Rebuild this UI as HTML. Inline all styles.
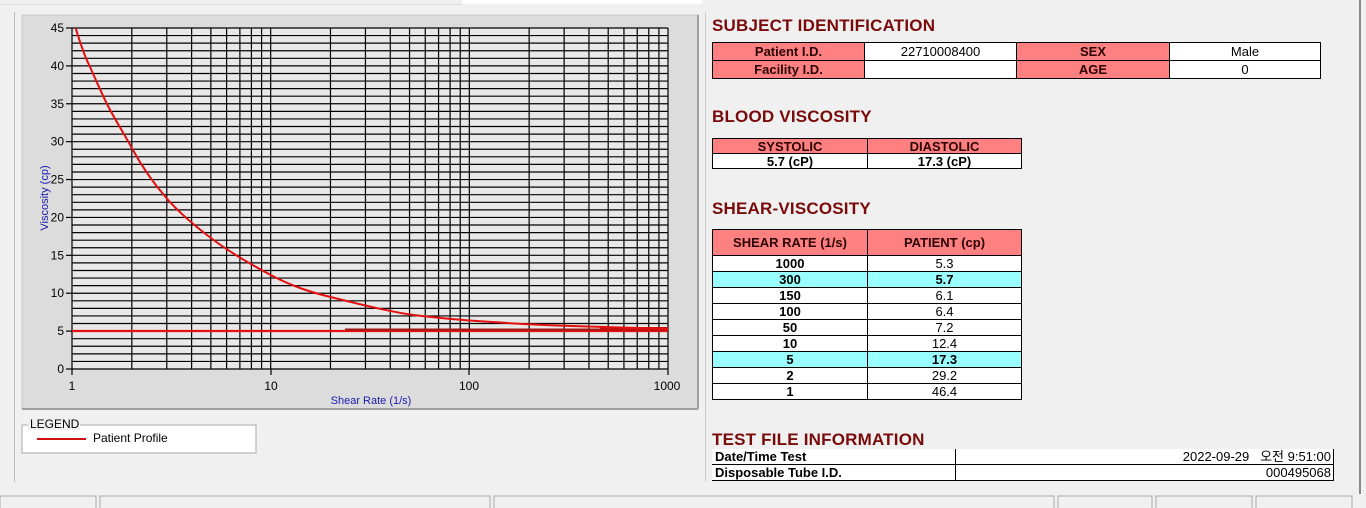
<!DOCTYPE html>
<html><head><meta charset="utf-8"><style>
body{margin:0;width:1366px;height:508px;background:#f0f0f0;position:relative;overflow:hidden;font-family:"Liberation Sans",sans-serif}
.a{position:absolute}
h2{position:absolute;margin:0;font-size:17px;font-weight:bold;color:#7a0a0a;letter-spacing:0.2px}
table{position:absolute;border-collapse:collapse;font-size:13px}
td{border:1px solid #000;padding:0;text-align:center;height:17px;line-height:15px;background:#fff;color:#000}
td.h{background:#ff8080;font-weight:bold;color:#2a0000}
td.b{font-weight:bold}
tr.c td{background:#99ffff;font-weight:bold}
.s td{height:15px;line-height:13px;font-size:13px}
</style></head><body>
<div class="a" style="left:0;top:0;width:462px;height:4px;background:#f0f0f0;border-bottom:1px solid #ddd"></div>
<div class="a" style="left:462px;top:0;width:240px;height:4px;background:#fff"></div>
<div class="a" style="left:14px;top:12px;width:690px;height:470px;border-left:1px solid #bbb;border-right:1px solid #ccc"></div>
<svg class="a" style="left:0;top:0" width="1366" height="508">
<rect x="22" y="15" width="676" height="394" fill="#dcdcdc" stroke="#c8c8c8"/>
<line x1="22" y1="409" x2="698" y2="409" stroke="#a0a0a0" stroke-width="2"/>
<line x1="698" y1="15" x2="698" y2="409" stroke="#a0a0a0" stroke-width="2"/>
<rect x="72" y="28" width="596" height="341" fill="#e8e8e8"/>
<defs><clipPath id="c"><rect x="72" y="28" width="597" height="342"/></clipPath></defs>
<g stroke="#000" stroke-width="1.2" id="grid"></g>
<g clip-path="url(#c)" fill="none">
<line x1="72" y1="331" x2="668" y2="331" stroke="#e41010" stroke-width="2.2"/>
<line x1="345" y1="329.5" x2="668" y2="329.5" stroke="#a01818" stroke-width="2"/>
<path d="M600 327 L668 327 L668 331 L600 331Z" fill="#c01010" stroke="none"/>
<path d="M72 17 C78 35 82 50 87.7 62 S100 90 107 104 S122 130 131.8 148 S155 185 166.8 198.5 S195 226 210.9 238 S250 264 270.7 275 S310 292 330.5 297 S385 311 409.5 314.4 S450 319 469.3 320.5 S495 322 504.3 322.8 S545 325 564.1 325.8 S640 328 668 328.8" stroke="#e41010" stroke-width="2"/>
</g>
<g font-size="12" fill="#000" text-anchor="end" id="yl"></g>
<g font-size="12" fill="#000" text-anchor="middle">
<text x="72" y="390">1</text><text x="271" y="390">10</text><text x="469" y="390">100</text><text x="667" y="390">1000</text></g>
<text x="371" y="404" font-size="11" fill="#1a1ab0" text-anchor="middle">Shear Rate (1/s)</text>
<text transform="translate(48,198) rotate(-90)" font-size="11" fill="#1a1ab0" text-anchor="middle">Viscosity (cp)</text>
<rect x="22" y="425" width="234" height="28" fill="#fff" stroke="#aaa"/>
<rect x="28" y="418" width="52" height="12" fill="#f0f0f0"/>
<text x="30" y="428" font-size="12" fill="#000">LEGEND</text>
<line x1="37" y1="439" x2="86" y2="439" stroke="#d01010" stroke-width="2"/>
<text x="93" y="442" font-size="12" fill="#000">Patient Profile</text>
<g fill="#f0f0f0" stroke="#aaa"><rect x="0" y="496" width="96" height="14"/><rect x="100" y="496" width="390" height="14"/><rect x="494" y="496" width="560" height="14"/><rect x="1058" y="496" width="94" height="14"/><rect x="1156" y="496" width="96" height="14"/><rect x="1256" y="496" width="96" height="14"/></g>
<line x1="1360" y1="0" x2="1360" y2="494" stroke="#888" stroke-width="2"/>
</svg>
<script>
var g=document.getElementById('grid'),s='';
for(var k=0;k<=45;k++){var y=369-k*341/45;s+='<line x1="72" x2="668" y1="'+y+'" y2="'+y+'"/>';}
for(var d=0;d<3;d++)for(var m=1;m<=9;m++){var x=72+198.67*(d+Math.log10(m));s+='<line y1="28" y2="369" x1="'+x+'" x2="'+x+'"/>';}
s+='<line y1="28" y2="369" x1="668" x2="668"/>';
for(var k=0;k<=45;k+=5){var y=369-k*341/45;s+='<line x1="66" x2="72" y1="'+y+'" y2="'+y+'"/>';}
s+='<line y1="369" y2="375" x1="72" x2="72"/><line y1="369" y2="375" x1="271" x2="271"/><line y1="369" y2="375" x1="469" x2="469"/><line y1="369" y2="375" x1="668" x2="668"/>';
g.innerHTML=s;
var t='';for(var k=0;k<=45;k+=5){var y=369-k*341/45+4;t+='<text x="64" y="'+y+'">'+k+'</text>';}
document.getElementById('yl').innerHTML=t;
</script>
<h2 style="left:712px;top:16px">SUBJECT IDENTIFICATION</h2>
<table style="left:712px;top:42px;width:609px">
<tr><td class="h" style="width:151px">Patient I.D.</td><td style="width:151px">22710008400</td><td class="h" style="width:152px">SEX</td><td>Male</td></tr>
<tr><td class="h">Facility I.D.</td><td></td><td class="h">AGE</td><td>0</td></tr></table>
<h2 style="left:712px;top:107px">BLOOD VISCOSITY</h2>
<table class="s" style="left:712px;top:138px;width:310px">
<tr><td class="h" style="width:154px;height:14px">SYSTOLIC</td><td class="h" style="height:14px">DIASTOLIC</td></tr>
<tr><td class="b" style="height:14px">5.7 (cP)</td><td class="b" style="height:14px">17.3 (cP)</td></tr></table>
<h2 style="left:712px;top:199px">SHEAR-VISCOSITY</h2>
<table class="s" style="left:712px;top:229px;width:310px">
<tr><td class="h" style="width:154px;height:25px">SHEAR RATE (1/s)</td><td class="h" style="height:25px">PATIENT (cp)</td></tr>
<tr><td class="b">1000</td><td>5.3</td></tr>
<tr class="c"><td>300</td><td>5.7</td></tr>
<tr><td class="b">150</td><td>6.1</td></tr>
<tr><td class="b">100</td><td>6.4</td></tr>
<tr><td class="b">50</td><td>7.2</td></tr>
<tr><td class="b">10</td><td>12.4</td></tr>
<tr class="c"><td>5</td><td>17.3</td></tr>
<tr><td class="b">2</td><td>29.2</td></tr>
<tr><td class="b">1</td><td>46.4</td></tr></table>
<h2 style="left:712px;top:430px">TEST FILE INFORMATION</h2>
<table class="s" style="left:712px;top:449px;width:622px">
<tr><td class="b" style="width:240px;text-align:left;padding-left:3px;border-left:none;border-top:none">Date/Time Test</td><td style="text-align:right;padding-right:2px;font-family:'Liberation Sans','Noto Sans CJK KR',sans-serif;border-top:none">2022-09-29 &nbsp; 오전 9:51:00</td></tr>
<tr><td class="b" style="text-align:left;padding-left:3px;border-left:none">Disposable Tube I.D.</td><td style="text-align:right;padding-right:2px">000495068</td></tr></table>
</body></html>
